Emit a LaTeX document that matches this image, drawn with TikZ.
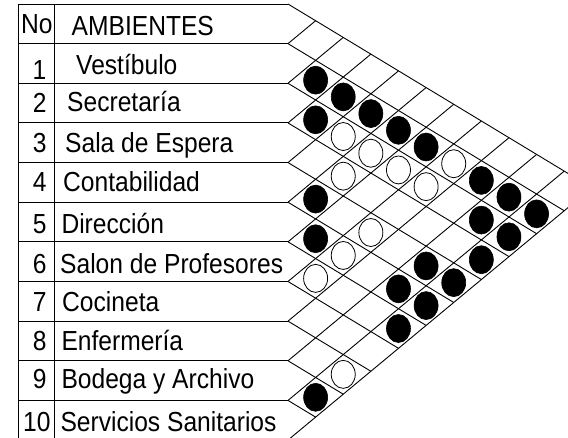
\documentclass[tikz,border=0pt]{standalone}
\usepackage{fontspec}
\usepackage{graphicx}
\setmainfont{Liberation Sans}
\usetikzlibrary{shapes.geometric}
\newcommand\tallText[1]{\scalebox{1}[1.12]{#1}}
\begin{document}
\begin{tikzpicture}[x=1pt,y=-1pt,
  gridline/.style={line width=0.9pt, black},
  lbl/.style={anchor=base west, inner sep=0pt, font=\fontsize{24.6}{28}\selectfont},
  num/.style={anchor=base, inner sep=0pt, font=\fontsize{24.6}{28}\selectfont},
  dotfull/.style={ellipse, fill=black, draw=black, line width=0.6pt, minimum width=24pt, minimum height=28pt, inner sep=0pt},
  dotopen/.style={ellipse, fill=white, draw=black, line width=0.8pt, minimum width=24pt, minimum height=28pt, inner sep=0pt}]
\useasboundingbox (0,0) rectangle (568,437);
\fill[white] (0,0) rectangle (568,437);
\begin{scope}
\clip (0,0) rectangle (568,437);
% table rules
\foreach \k in {0,...,10} {\draw[gridline] (18.3,{4+39.64*\k}) -- (288,{4+39.64*\k});}
\draw[gridline] (18.3,4) -- (18.3,450);
\draw[gridline] (54.3,4) -- (54.3,450);
% descending diagonals
\foreach \i in {0,...,10} {
  \pgfmathsetmacro\bi{4+39.64*\i}
  \pgfmathsetmacro\dx{(440.04-\bi)/1.435}
  \draw[gridline] (288,\bi) -- ++(\dx,{0.605*\dx});
}
% ascending diagonals
\foreach \j in {1,...,11} {
  \pgfmathsetmacro\bj{4+39.64*\j}
  \pgfmathsetmacro\dx{(\bj-4)/1.435}
  \draw[gridline] (288,\bj) -- ++(\dx,{-0.83*\dx});
}
% relation marks
\foreach \i/\j/\s [count=\n] in {
  1/2/dotfull, 1/3/dotfull, 1/4/dotfull, 1/5/dotfull, 1/6/dotfull, 1/7/dotopen,
  1/8/dotfull, 1/9/dotfull, 1/10/dotfull,
  2/3/dotfull, 2/4/dotopen, 2/5/dotopen, 2/6/dotopen, 2/7/dotopen, 2/9/dotfull, 2/10/dotfull,
  3/5/dotopen, 3/10/dotfull,
  4/5/dotfull, 4/7/dotopen, 4/9/dotfull, 4/10/dotfull,
  5/6/dotfull, 5/7/dotopen, 5/9/dotfull, 5/10/dotfull,
  6/7/dotopen, 6/10/dotfull,
  8/10/dotopen,
  9/10/dotfull} {
  \pgfmathsetmacro\cx{288+27.62*(\j-\i)}
  \pgfmathsetmacro\cy{4+39.64*(\i+0.5)+16.71*(\j-\i)}
  \node[\s] (c\n) at (\cx,\cy) {};
}
\end{scope}
% texts
\node[lbl] (hno) at (21,33.8) {\tallText{No}};
\node[lbl] (hamb) at (71.5,35) {\tallText{AMBIENTES}};
\node[num] (n1) at (39.5,79.3) {\tallText{1}};
\node[num] (n2) at (39.8,112.7) {\tallText{2}};
\node[num] (n3) at (39.8,152.7) {\tallText{3}};
\node[num] (n4) at (39.8,191.7) {\tallText{4}};
\node[num] (n5) at (39.8,233.3) {\tallText{5}};
\node[num] (n6) at (39.8,273.3) {\tallText{6}};
\node[num] (n7) at (39.8,311.7) {\tallText{7}};
\node[num] (n8) at (39.8,350) {\tallText{8}};
\node[num] (n9) at (39.8,388.3) {\tallText{9}};
\node[num] (n10) at (36.8,431) {\tallText{10}};
\node[lbl] (a1) at (76,74) {\tallText{Vestíbulo}};
\node[lbl] (a2) at (67,111.7) {\tallText{Secretaría}};
\node[lbl] (a3) at (65,152.7) {\tallText{Sala de Espera}};
\node[lbl] (a4) at (63,191.7) {\tallText{Contabilidad}};
\node[lbl] (a5) at (61.3,233) {\tallText{Dirección}};
\node[lbl] (a6) at (60,273.3) {\tallText{Salon de Profesores}};
\node[lbl] (a7) at (62,311.7) {\tallText{Cocineta}};
\node[lbl] (a8) at (61.3,350) {\tallText{Enfermería}};
\node[lbl] (a9) at (61.3,388.3) {\tallText{Bodega y Archivo}};
\node[lbl] (a10) at (60.3,431) {\tallText{Servicios Sanitarios}};
\end{tikzpicture}
\end{document}
